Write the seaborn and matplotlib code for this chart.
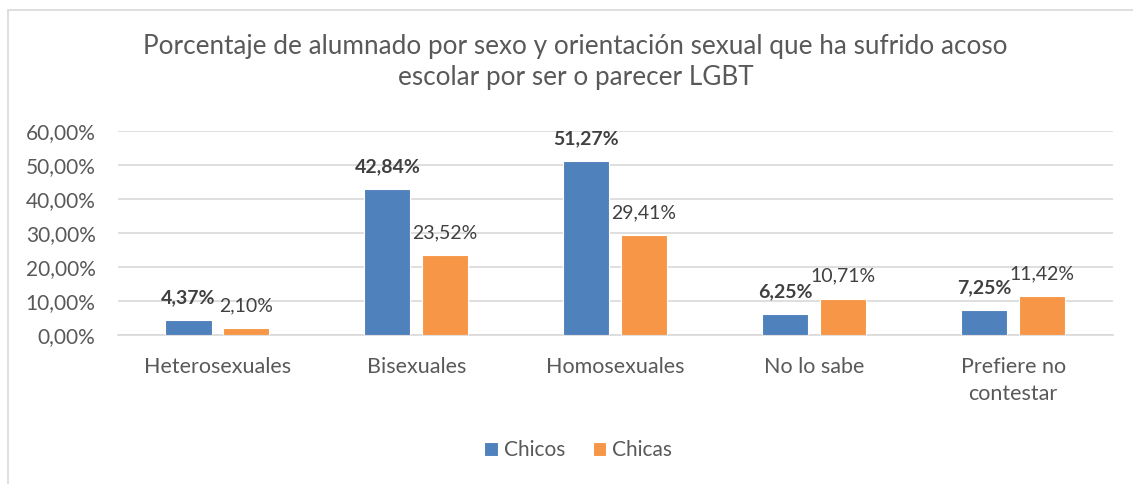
import pandas as pd
import seaborn as sns
import matplotlib.pyplot as plt
from matplotlib.patches import Rectangle

categories = ["Heterosexuales", "Bisexuales", "Homosexuales", "No lo sabe", "Prefiere no\ncontestar"]
chicos = [4.37, 42.84, 51.27, 6.25, 7.25]
chicas = [2.10, 23.52, 29.41, 10.71, 11.42]
series = ["Chicos", "Chicas"]
yticks = [0, 10, 20, 30, 40, 50, 60]

df = pd.DataFrame({
    "Categoria": categories * 2,
    "Sexo": [series[0]] * len(categories) + [series[1]] * len(categories),
    "Valor": chicos + chicas,
})

sns.set_theme(style="white")
plt.rcParams['font.family'] = ['Lato', 'DejaVu Sans']

text_col = "#595959"
label_col = "#404040"
palette = {"Chicos": "#4f81bd", "Chicas": "#f79646"}

fig = plt.figure(figsize=(11.33, 4.84), dpi=100)
ax = fig.add_axes([0.104, 0.308, 0.878, 0.421])

sns.barplot(data=df, x="Categoria", y="Valor", hue="Sexo", palette=palette,
            width=0.58, gap=0.2, edgecolor="white", linewidth=0.8,
            saturation=1, ax=ax, zorder=3)

ax.set_ylim(0, 60)
ax.set_xlim(-0.5, len(categories) - 0.5)
ax.set_yticks(yticks)
ax.set_yticklabels([f"{v},00%" for v in yticks], fontsize=15, color=text_col)
ax.tick_params(axis='x', labelsize=15.5, labelcolor=text_col, length=0, pad=16)
ax.tick_params(axis='y', length=0, pad=16)
for lab in ax.get_xticklabels():
    lab.set_linespacing(1.45)
ax.yaxis.grid(True, color="#d9d9d9", linewidth=1.2, zorder=0)
ax.set_axisbelow(True)
for s in ["top", "right", "left"]:
    ax.spines[s].set_visible(False)
ax.spines["bottom"].set_color("#d9d9d9")
ax.spines["bottom"].set_linewidth(1.2)
ax.set_xlabel("")
ax.set_ylabel("")

# data labels
for i, container in enumerate(ax.containers):
    weight = "bold" if i == 0 else "normal"
    labels = [f"{v:.2f}".replace(".", ",") + "%" for v in container.datavalues]
    ax.bar_label(container, labels=labels, padding=10, fontsize=14,
                 color=label_col, fontweight=weight)

ax.legend(loc="upper center", bbox_to_anchor=(0.463, -0.425), ncol=2, frameon=False,
          fontsize=15, labelcolor=text_col, handlelength=0.65, handleheight=0.65,
          handletextpad=0.3, columnspacing=1.3)

fig.suptitle("Porcentaje de alumnado por sexo y orientación sexual que ha sufrido acoso\nescolar por ser o parecer LGBT",
             x=0.508, y=0.93, fontsize=18.8, color=text_col, linespacing=1.3)

# chart frame (only top and left visible in the crop)
fig.patches.append(Rectangle((8 / 1133, -0.1), 1.2, 1 - 10 / 484 + 0.1,
                             transform=fig.transFigure, fill=False,
                             edgecolor="#d9d9d9", linewidth=1.2))

fig.savefig("out.png", dpi=100)
